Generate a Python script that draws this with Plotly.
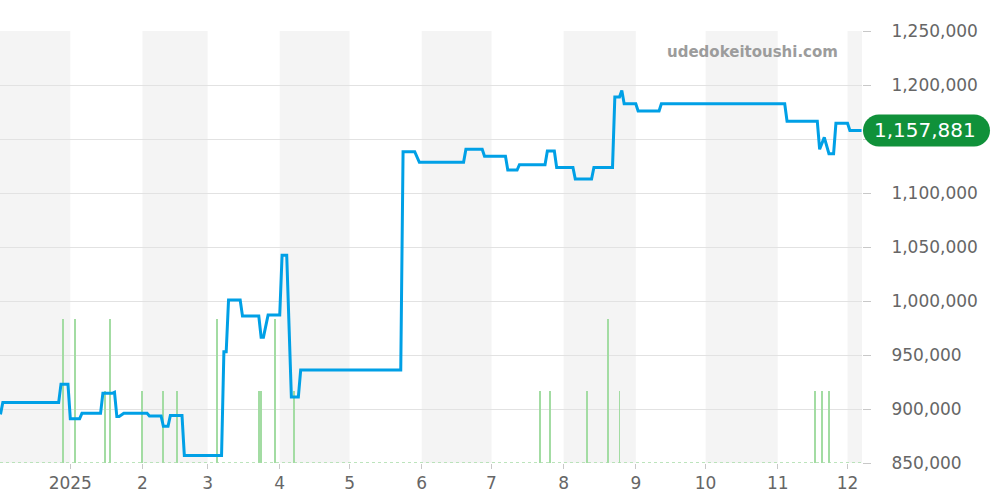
import plotly.graph_objects as go

# ---------------- data ----------------
price_dates = [
    "2024-12-02", "2024-12-03", "2024-12-27", "2024-12-28", "2024-12-31",
    "2025-01-01", "2025-01-05", "2025-01-06", "2025-01-14", "2025-01-15",
    "2025-01-19", "2025-01-20", "2025-01-21", "2025-01-22", "2025-01-24",
    "2025-02-03", "2025-02-04", "2025-02-09", "2025-02-10", "2025-02-12",
    "2025-02-13", "2025-02-18", "2025-02-19", "2025-03-07", "2025-03-08",
    "2025-03-09", "2025-03-10", "2025-03-15", "2025-03-16", "2025-03-23",
    "2025-03-24", "2025-03-25", "2025-03-27", "2025-04-01", "2025-04-02",
    "2025-04-04", "2025-04-06", "2025-04-09", "2025-04-10", "2025-05-23",
    "2025-05-24", "2025-05-29", "2025-05-31", "2025-06-19", "2025-06-20",
    "2025-06-27", "2025-06-28", "2025-07-07", "2025-07-08", "2025-07-12",
    "2025-07-13", "2025-07-24", "2025-07-25", "2025-07-28", "2025-07-29",
    "2025-08-05", "2025-08-06", "2025-08-13", "2025-08-14", "2025-08-22",
    "2025-08-23", "2025-08-25", "2025-08-26", "2025-08-27", "2025-09-01",
    "2025-09-02", "2025-09-11", "2025-09-12", "2025-11-04", "2025-11-05",
    "2025-11-18", "2025-11-19", "2025-11-21", "2025-11-23", "2025-11-25",
    "2025-11-26", "2025-12-01", "2025-12-02", "2025-12-07",
]
price_values = [
    895000, 906000, 906000, 923000, 923000,
    891000, 891000, 896000, 896000, 914500,
    914500, 915500, 893000, 893000, 896000,
    896000, 893500, 893500, 884000, 884000,
    894000, 894000, 857000, 857000, 953000,
    953000, 1001000, 1001000, 986000, 986000,
    966500, 966500, 987000, 987000, 1042300,
    1042300, 911000, 911000, 936000, 936000,
    1138300, 1138300, 1128400, 1128400, 1140500,
    1140500, 1134000, 1134000, 1121300, 1121300,
    1126200, 1126200, 1138900, 1138900, 1123700,
    1123700, 1113000, 1113000, 1123700, 1123700,
    1188900, 1188900, 1195000, 1182700, 1182700,
    1175900, 1175900, 1182700, 1182700, 1166400,
    1166400, 1140500, 1151500, 1136400, 1136400,
    1164500, 1164500, 1157881, 1157881,
]

volume_dates = [
    "2024-12-29", "2025-01-03", "2025-01-16", "2025-01-18", "2025-02-01",
    "2025-02-10", "2025-02-16", "2025-03-05", "2025-03-23", "2025-03-24",
    "2025-03-30", "2025-04-07", "2025-07-22", "2025-07-26", "2025-08-11",
    "2025-08-20", "2025-08-25", "2025-11-17", "2025-11-20", "2025-11-23",
]
volume_values = [2, 2, 1, 2, 1, 1, 1, 2, 1, 1, 2, 1, 1, 1, 1, 2, 1, 1, 1, 1]

month_ticks = ["2025-01-01", "2025-02-01", "2025-03-01", "2025-04-01", "2025-05-01",
               "2025-06-01", "2025-07-01", "2025-08-01", "2025-09-01", "2025-10-01",
               "2025-11-01", "2025-12-01"]
month_labels = ["2025", "2", "3", "4", "5", "6", "7", "8", "9", "10", "11", "12"]

y_ticks = [850000, 900000, 950000, 1000000, 1050000, 1100000, 1150000, 1200000, 1250000]

last_price = price_values[-1]
watermark = "udedokeitoushi.com"

# ---------------- layout constants ----------------
W, H = 1000, 500
ML, MR, MT, MB = 0, 138, 31, 37
PW, PH = W - ML - MR, H - MT - MB
Y_MIN, Y_MAX = 850000, 1250000
X_RANGE = ["2024-12-01 19:00", "2025-12-07 05:00"]
FONT = "DejaVu Sans"

fig = go.Figure()

# volume bars (base axis)
fig.add_trace(go.Bar(
    x=volume_dates, y=volume_values, yaxis="y", xaxis="x",
    marker=dict(color="#a3dca3", line=dict(width=0)),
    width=74_000_000, hoverinfo="skip", showlegend=False,
))
# dotted baseline of the volume series
fig.add_trace(go.Scatter(
    x=[X_RANGE[0], X_RANGE[1]], y=[0, 0], yaxis="y", xaxis="x",
    mode="lines", line=dict(color="#a6dca6", width=1.5, dash="dot"),
    hoverinfo="skip", showlegend=False,
))
# price line (overlay axis, drawn on top)
fig.add_trace(go.Scatter(
    x=price_dates, y=price_values, yaxis="y2", xaxis="x",
    mode="lines", line=dict(color="#00a0e6", width=3),
    hoverinfo="skip", showlegend=False,
))

# alternating month shading
shapes = []
shade_months = [("2024-11-01", "2025-01-01"), ("2025-02-01", "2025-03-01"),
                ("2025-04-01", "2025-05-01"), ("2025-06-01", "2025-07-01"),
                ("2025-08-01", "2025-09-01"), ("2025-10-01", "2025-11-01"),
                ("2025-12-01", "2026-01-01")]
for a, b in shade_months:
    shapes.append(dict(type="rect", xref="x", yref="paper", x0=a, x1=b, y0=0, y1=1,
                       fillcolor="#f4f4f4", line=dict(width=0), layer="below"))

# pill for last value
def px_to_paper_x(px):
    return (px - ML) / PW

yc = (last_price - Y_MIN) / (Y_MAX - Y_MIN)
r = 16
rx, ry = r / PW, r / PH
x0p, x1p = px_to_paper_x(863), px_to_paper_x(990)
k = 0.5523
path = (
    f"M {x0p+rx},{yc+ry} L {x1p-rx},{yc+ry} "
    f"C {x1p-rx+k*rx},{yc+ry} {x1p},{yc+k*ry} {x1p},{yc} "
    f"C {x1p},{yc-k*ry} {x1p-rx+k*rx},{yc-ry} {x1p-rx},{yc-ry} "
    f"L {x0p+rx},{yc-ry} "
    f"C {x0p+rx-k*rx},{yc-ry} {x0p},{yc-k*ry} {x0p},{yc} "
    f"C {x0p},{yc+k*ry} {x0p+rx-k*rx},{yc+ry} {x0p+rx},{yc+ry} Z"
)
shapes.append(dict(type="path", xref="paper", yref="paper", path=path,
                   fillcolor="#10913a", line=dict(width=0), layer="above"))

# tick labels hidden behind the pill in the reference are left blank
pill_half = r / PH * (Y_MAX - Y_MIN)
y_ticktext = ["" if abs(v - last_price) < pill_half + 6000 else f"{v:,}" for v in y_ticks]

annotations = [
    dict(xref="paper", yref="paper", x=px_to_paper_x(925), y=yc,
         text=f"{last_price:,}", showarrow=False, xanchor="center", yanchor="middle",
         font=dict(family=FONT, size=20, color="white")),
    dict(xref="paper", yref="paper", x=px_to_paper_x(840), y=(H - MB - 52) / PH,
         text=f"<b>{watermark}</b>", showarrow=False, xanchor="right", yanchor="middle",
         font=dict(family=FONT, size=15, color="#9c9c9c")),
]

fig.update_layout(
    width=W, height=H,
    margin=dict(l=ML, r=MR, t=MT, b=MB, pad=0, autoexpand=False),
    paper_bgcolor="white", plot_bgcolor="white",
    showlegend=False, bargap=0, hovermode=False,
    font=dict(family=FONT, size=17, color="#666666"),
    xaxis=dict(
        type="date", range=X_RANGE, tickvals=month_ticks, ticktext=month_labels,
        showgrid=False, zeroline=False, showline=False, automargin=False,
        ticks="outside", ticklen=5, tickcolor="#c8c8c8",
        tickfont=dict(family=FONT, size=17, color="#666666"),
    ),
    yaxis=dict(range=[0, 6], visible=False, showgrid=False, zeroline=False,
               automargin=False, fixedrange=True),
    yaxis2=dict(
        overlaying="y", side="right", range=[Y_MIN, Y_MAX], tickvals=y_ticks,
        ticktext=y_ticktext, showgrid=True, gridcolor="#e2e2e2", gridwidth=1,
        zeroline=False, showline=False, ticks="outside", ticklen=8, tickcolor="#c8c8c8",
        ticklabelstandoff=17, automargin=False,
        tickfont=dict(family=FONT, size=17, color="#666666"),
    ),
    shapes=shapes,
    annotations=annotations,
)

fig.write_html(
    "out.html",
    config={"displayModeBar": False, "staticPlot": True},
    post_script="document.body.style.margin='0';document.body.style.padding='0';",
)
